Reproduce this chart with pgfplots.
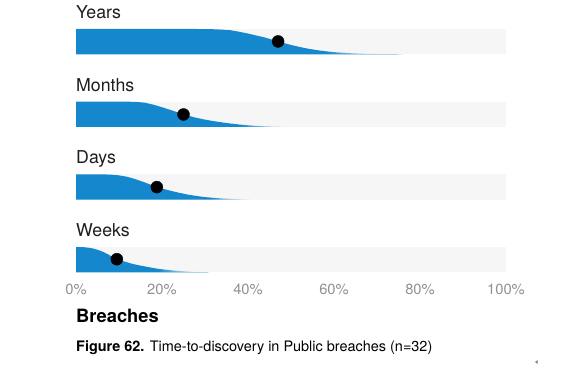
\documentclass[border=0pt]{standalone}
\usepackage{pgfplots}
\pgfplotsset{compat=1.18}
\usepackage{pgfplotstable}
\usetikzlibrary{fadings}
\usepackage{fontspec}
\setmainfont{TeX Gyre Heros}
\definecolor{slabblue}{RGB}{20,135,205}
\definecolor{bandgray}{RGB}{246,246,246}
\definecolor{tickgray}{RGB}{145,145,145}
\definecolor{labcol}{RGB}{30,30,30}
\tikzfading[name=fadein, left color=transparent!100, right color=transparent!0]

\pgfplotstableread{
x h
0 0
0 1
28 1
30 0.997
32 0.99
34 0.975
36 0.95
38 0.89
40 0.82
42 0.74
44 0.66
46 0.56
47 0.51
48 0.46
50 0.37
52 0.29
54 0.22
56 0.165
58 0.12
60 0.085
62 0.06
64 0.04
66 0.027
68 0.017
70 0.01
73 0.004
76 0
}\years

\pgfplotstableread{
x h
0 0
0 1
12 1
14 0.99
16 0.96
18 0.88
20 0.78
22 0.67
24 0.56
25 0.5
26 0.45
28 0.36
30 0.29
32 0.23
34 0.18
36 0.135
38 0.095
40 0.065
42 0.04
44 0.025
46 0.014
48 0.006
51 0
}\months

\pgfplotstableread{
x h
0 0
0 1
6 1
8 0.99
10 0.96
12 0.9
14 0.8
16 0.68
18 0.55
19 0.49
20 0.44
22 0.35
24 0.27
26 0.2
28 0.145
30 0.1
32 0.07
34 0.045
36 0.028
38 0.016
40 0.008
43 0
}\days

\pgfplotstableread{
x h
0 0
0 1
1 0.998
2 0.99
3 0.97
4 0.94
5 0.89
6 0.83
7 0.75
8 0.66
9 0.57
9.5 0.53
10 0.5
11 0.44
12 0.39
13 0.34
14 0.3
15.5 0.25
17 0.2
19 0.14
21 0.1
23 0.065
25 0.04
27 0.022
29 0.01
31 0
}\weeks

\begin{document}
\begin{tikzpicture}
\path[use as bounding box] (-76bp,-95.7bp) rectangle (508bp,272.3bp);
\begin{axis}[
  at={(0,0)}, anchor=south west,
  scale only axis, width=430bp, height=243.3bp,
  xmin=0, xmax=100, ymin=0, ymax=3.348,
  axis line style={draw=none},
  ytick=\empty,
  xtick={0,20,40,60,80,100},
  major tick length=0pt,
  /pgf/number format/assume math mode=true,
  xticklabel={\pgfmathprintnumber{\tick}\%},
  xticklabel style={font=\fontsize{14.8}{16}\selectfont, text=tickgray, yshift=-8bp},
  clip=false,
]
% background bands
\addplot[fill=bandgray, draw=none] coordinates {(0,3) (100,3) (100,3.348) (0,3.348)};
\addplot[fill=bandgray, draw=none] coordinates {(0,2) (100,2) (100,2.348) (0,2.348)};
\addplot[fill=bandgray, draw=none] coordinates {(0,1) (100,1) (100,1.348) (0,1.348)};
\addplot[fill=bandgray, draw=none] coordinates {(0,0) (100,0) (100,0.348) (0,0.348)};
% slabs
\addplot[fill=slabblue, draw=none] table[x=x, y expr=\thisrow{h}*0.348+3] {\years};
\addplot[fill=slabblue, draw=none] table[x=x, y expr=\thisrow{h}*0.348+2] {\months};
\addplot[fill=slabblue, draw=none] table[x=x, y expr=\thisrow{h}*0.348+1] {\days};
\addplot[fill=slabblue, draw=none] table[x=x, y expr=\thisrow{h}*0.348] {\weeks};
% tail fades
\addplot[fill=bandgray, draw=none, path fading=fadein] coordinates {(58,3) (72,3) (72,3.348) (58,3.348)};
\addplot[fill=bandgray, draw=none, path fading=fadein] coordinates {(38,2) (50,2) (50,2.348) (38,2.348)};
\addplot[fill=bandgray, draw=none, path fading=fadein] coordinates {(31,1) (41,1) (41,1.348) (31,1.348)};
\addplot[fill=bandgray, draw=none, path fading=fadein] coordinates {(19,0) (29,0) (29,0.348) (19,0.348)};
\addplot[fill=bandgray, draw=none] coordinates {(72,3) (80,3) (80,3.348) (72,3.348)};
\addplot[fill=bandgray, draw=none] coordinates {(50,2) (55,2) (55,2.348) (50,2.348)};
\addplot[fill=bandgray, draw=none] coordinates {(41,1) (45,1) (45,1.348) (41,1.348)};
\addplot[fill=bandgray, draw=none] coordinates {(29,0) (33,0) (33,0.348) (29,0.348)};
% medians
\addplot[only marks, mark=*, mark size=6bp, black] coordinates {(47,3.177) (25,2.172) (18.8,1.172) (9.5,0.18)};
% row labels
\node[anchor=base west, inner sep=0, font=\fontsize{17.8}{20}\selectfont, text=labcol] at (axis cs:0,3.491) {Years};
\node[anchor=base west, inner sep=0, font=\fontsize{17.8}{20}\selectfont, text=labcol] at (axis cs:0,2.491) {Months};
\node[anchor=base west, inner sep=0, font=\fontsize{17.8}{20}\selectfont, text=labcol] at (axis cs:0,1.491) {Days};
\node[anchor=base west, inner sep=0, font=\fontsize{17.8}{20}\selectfont, text=labcol] at (axis cs:0,0.491) {Weeks};
\end{axis}
\node[anchor=base west, inner sep=0, font=\bfseries\fontsize{18.4}{20}\selectfont, text=black] at (0bp,-49.7bp) {Breaches};
\node[anchor=base west, inner sep=0, font=\fontsize{14.5}{17}\selectfont, text=black] at (0bp,-78.7bp) {\textbf{Figure 62.} Time-to-discovery in Public breaches (n=32)};
\fill[gray] (459bp,-89.7bp) -- ++(2.5bp,1.8bp) -- ++(0,-3.6bp) -- cycle;
\end{tikzpicture}
\end{document}
